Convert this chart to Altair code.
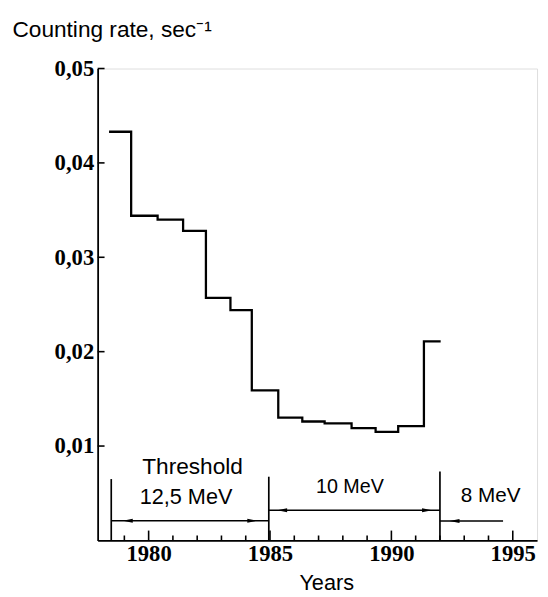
import altair as alt
import pandas as pd

# ---- data ----
step_years = [1978.37, 1979.28, 1980.37, 1981.42, 1982.36, 1983.37, 1984.25,
              1985.34, 1986.33, 1987.25, 1988.36, 1989.35, 1990.28, 1991.34, 1992.03]
step_rates = [0.0433, 0.0344, 0.0340, 0.0328, 0.0257, 0.0244, 0.0159,
              0.0130, 0.0126, 0.0124, 0.0119, 0.0115, 0.0121, 0.0211, 0.0211]

y_tick_values = [0.01, 0.02, 0.03, 0.04, 0.05]
x_label_years = [1980, 1985, 1990, 1995]
x_minor_years = [1979, 1981, 1982, 1983, 1984, 1986, 1987, 1988, 1989, 1991, 1992, 1993, 1994]

divider_years = [1978.46, 1984.95, 1992.0]
divider_tops = [0.0065, 0.00675, 0.0073]

arrow_start = [1978.46, 1984.95, 1992.0]
arrow_end = [1984.95, 1992.0, 1994.6]
arrow_level = [0.00209, 0.0032, 0.00206]

head_left_x = [1978.94, 1985.3, 1992.4]
head_left_y = [0.00209, 0.0032, 0.00206]
head_right_x = [1984.47, 1991.67]
head_right_y = [0.00209, 0.0032]

note_text = ["Threshold", "12,5 MeV", "10 MeV", "8 MeV"]
note_x = [1981.81, 1981.54, 1988.29, 1994.09]
note_y = [0.00703, 0.00389, 0.00504, 0.00407]
note_size = [23, 22, 20, 21]

X_DOMAIN = [1977.9, 1996.0]
Y_DOMAIN = [0, 0.05]
W, H = 446, 479

xs = alt.Scale(domain=X_DOMAIN, nice=False, zero=False)
ys = alt.Scale(domain=Y_DOMAIN, nice=False, zero=False)

X_AXIS = alt.Axis(
    values=x_label_years, format="d", ticks=False, grid=False,
    domainColor="black", domainWidth=1.8,
    labelFont="Liberation Serif", labelFontWeight="bold", labelFontSize=23,
    labelColor="black", labelPadding=2, labelFlush=False,
    title="Years", titleFont="Liberation Sans", titleFontSize=22,
    titleFontWeight="normal", titleColor="black",
    titleX=232, titleY=50, titleBaseline="alphabetic", titleAlign="center")
Y_AXIS = alt.Axis(
    values=y_tick_values, ticks=False, grid=False,
    domainColor="black", domainWidth=1.8,
    labelExpr="replace(format(datum.value, '.2f'), '.', ',')",
    labelFont="Liberation Serif", labelFontWeight="bold", labelFontSize=23,
    labelColor="black", labelPadding=4, labelFlush=False,
    title="Counting rate, sec⁻¹", titleFont="Liberation Sans",
    titleFontSize=23, titleFontWeight="normal", titleColor="black",
    titleAngle=0, titleAlign="left", titleBaseline="alphabetic",
    titleX=-87, titleY=-32)


def X(field):
    return alt.X(field, type="quantitative", scale=xs, axis=X_AXIS)


def Y(field):
    return alt.Y(field, type="quantitative", scale=ys, axis=Y_AXIS)


steps = pd.DataFrame({"year": step_years, "rate": step_rates})
line = alt.Chart(steps).mark_line(
    interpolate="step-after", color="black", strokeWidth=2.3
).encode(x=X("year"), y=Y("rate"))

ytick_df = pd.DataFrame({"v": y_tick_values})
yticks = alt.Chart(ytick_df).mark_rule(color="black", strokeWidth=1.6).encode(
    y=Y("v"), x=alt.value(0), x2=alt.value(7),
)

major_df = pd.DataFrame({"yr": x_label_years})
minor_df = pd.DataFrame({"yr": x_minor_years})
xticks_major = alt.Chart(major_df).mark_rule(color="black", strokeWidth=1.6).encode(
    x=X("yr"), y=alt.value(H), y2=alt.value(H - 10),
)
xticks_minor = alt.Chart(minor_df).mark_rule(color="black", strokeWidth=1.6).encode(
    x=X("yr"), y=alt.value(H), y2=alt.value(H - 5),
)

div_df = pd.DataFrame({"yr": divider_years, "top": divider_tops, "bottom": [0.0] * 3})
dividers = alt.Chart(div_df).mark_rule(color="black", strokeWidth=1.7).encode(
    x=X("yr"), y=Y("top"), y2="bottom:Q",
)

arr_df = pd.DataFrame({"a": arrow_start, "b": arrow_end, "lv": arrow_level})
arrows = alt.Chart(arr_df).mark_rule(color="black", strokeWidth=1.5).encode(
    x=X("a"), x2="b:Q", y=Y("lv"),
)

hl_df = pd.DataFrame({"hx": head_left_x, "hy": head_left_y})
hr_df = pd.DataFrame({"hx": head_right_x, "hy": head_right_y})
heads_left = alt.Chart(hl_df).mark_point(
    shape="M0,0L2,-0.4L2,0.4Z", filled=True, color="black", opacity=1, size=100
).encode(x=X("hx"), y=Y("hy"))
heads_right = alt.Chart(hr_df).mark_point(
    shape="M0,0L-2,-0.4L-2,0.4Z", filled=True, color="black", opacity=1, size=100
).encode(x=X("hx"), y=Y("hy"))

note_df = pd.DataFrame({"t": note_text, "nx": note_x, "ny": note_y, "fs": note_size})
notes = alt.Chart(note_df).mark_text(
    font="Liberation Sans", color="black", align="center", baseline="alphabetic"
).encode(
    x=X("nx"), y=Y("ny"), text="t:N",
    size=alt.Size("fs:Q", scale=None, legend=None),
)

chart = alt.layer(
    line, yticks, xticks_major, xticks_minor, dividers, arrows,
    heads_left, heads_right, notes
).properties(
    width=W, height=H,
    autosize=alt.AutoSizeParams(type="none"),
    padding={"left": 91, "top": 57, "right": 3, "bottom": 53},
).configure_view(strokeWidth=0).configure(background="white")

chart.save("out.html", embed_options={"renderer": "svg", "actions": False})
